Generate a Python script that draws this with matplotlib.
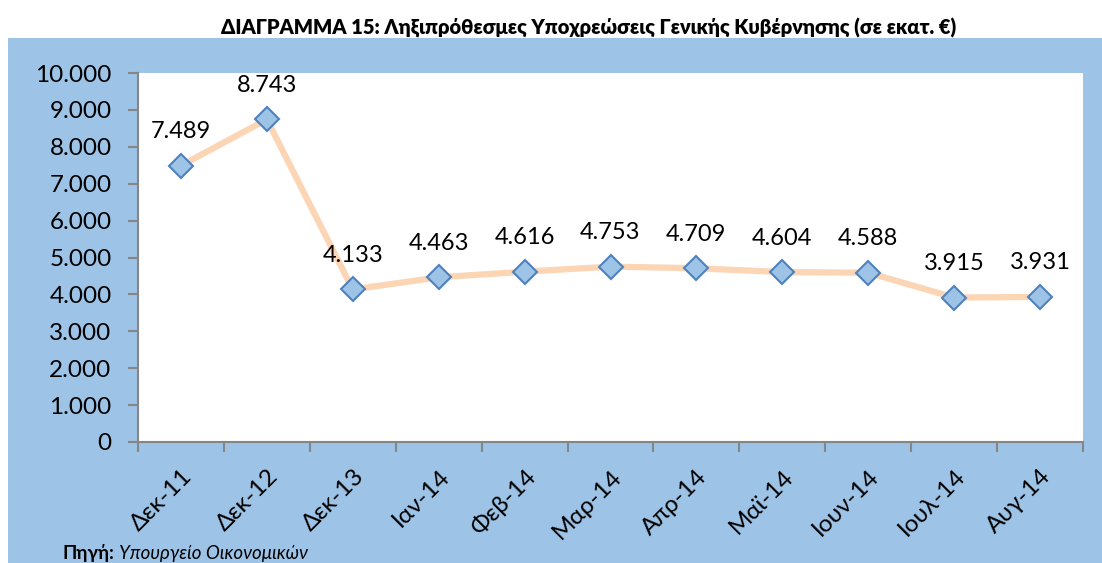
# Ληξιπρόθεσμες Υποχρεώσεις Γενικής Κυβέρνησης
import matplotlib
matplotlib.use('Agg')
import matplotlib.pyplot as plt
from matplotlib.patches import Rectangle

plt.rcParams['font.family'] = ['Lato', 'DejaVu Sans']

months = ['Δεκ-11', 'Δεκ-12', 'Δεκ-13', 'Ιαν-14', 'Φεβ-14', 'Μαρ-14',
          'Απρ-14', 'Μαϊ-14', 'Ιουν-14', 'Ιουλ-14', 'Αυγ-14']
arrears = [7489, 8743, 4133, 4463, 4616, 4753, 4709, 4604, 4588, 3915, 3931]
yticks = [0, 1000, 2000, 3000, 4000, 5000, 6000, 7000, 8000, 9000, 10000]


def fmt(v):
    return '{:,}'.format(v).replace(',', '.')


fig = plt.figure(figsize=(11.02, 5.63), dpi=100)
fig.patch.set_facecolor('white')
fig.patches.append(Rectangle((8/1102, 0), 1 - 8/1102, (563-38)/563,
                             transform=fig.transFigure, facecolor='#9dc3e6',
                             edgecolor='none', zorder=-5))

ax = fig.add_axes([138/1102, 1 - 442/563, (1083-138)/1102, (442-73)/563])
ax.set_facecolor('white')
x = list(range(len(months)))
ax.plot(x, arrears, color='#fcd5b5', lw=4.5, zorder=2)
ax.plot(x, arrears, ls='none', marker='D', ms=12.5, mfc='#9dc3e6',
        mec='#4f81bd', mew=1.5, zorder=3)
for i, v in enumerate(arrears):
    ax.annotate(fmt(v), (i, v), xytext=(0, 17), textcoords='offset points',
                ha='center', va='bottom', fontsize=17)

ax.set_xlim(-0.5, len(months) - 0.5)
ax.set_ylim(0, 10000)
ax.set_yticks(yticks)
ax.set_yticklabels([fmt(v) for v in yticks], fontsize=17.5)
ax.set_xticks(x)
ax.set_xticklabels(months, fontsize=17.5, rotation=45, ha='right',
                   va='top', rotation_mode='anchor')
ax.set_xticks([i - 0.5 for i in range(len(months) + 1)], minor=True)
ax.tick_params(axis='x', which='major', length=0, pad=17)
ax.tick_params(axis='x', which='minor', length=7, color='#868686', width=1.5)
ax.tick_params(axis='y', length=7, color='#868686', width=1.5, pad=12)
for s in ['top', 'right']:
    ax.spines[s].set_visible(False)
for s in ['left', 'bottom']:
    ax.spines[s].set_color('#868686')
    ax.spines[s].set_linewidth(1.5)

fig.text(589/1102, 1 - 28/563, 'ΔΙΑΓΡΑΜΜΑ 15: Ληξιπρόθεσμες Υποχρεώσεις Γενικής Κυβέρνησης (σε εκατ. €)',
         ha='center', va='center', fontsize=14.5, fontweight='heavy')
fig.text(62/1102, 1/563, 'Πηγή:', ha='left', va='bottom',
         fontsize=13.5, fontweight='bold')
fig.text(119/1102, 1/563, 'Υπουργείο Οικονομικών', ha='left', va='bottom',
         fontsize=13.5, style='italic')

fig.savefig('out.png', dpi=100)
